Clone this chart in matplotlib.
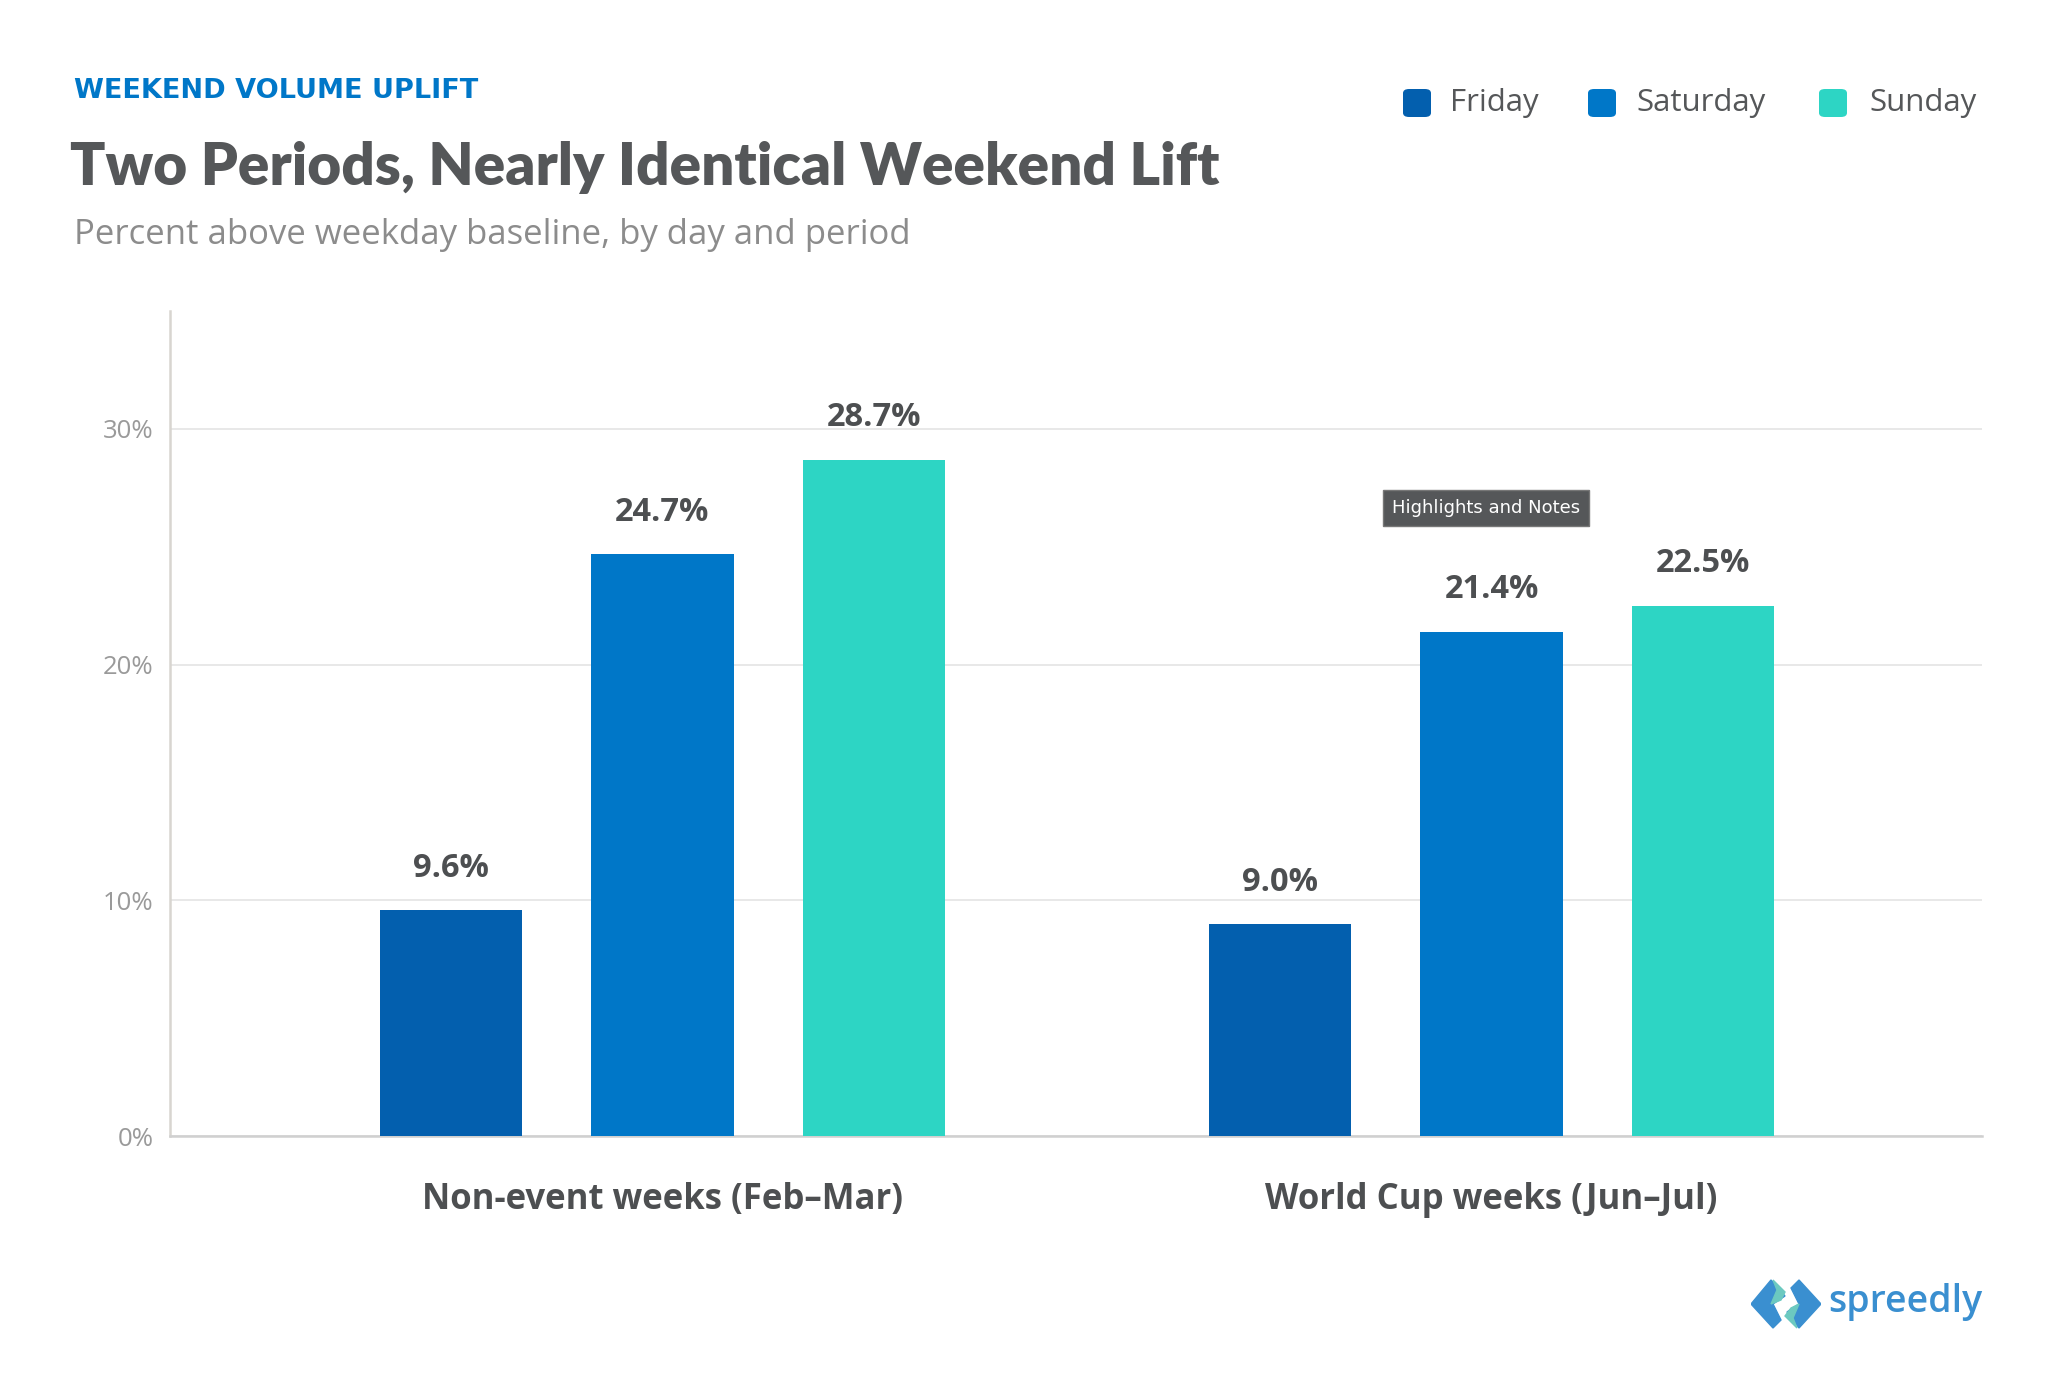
import matplotlib.pyplot as plt
from matplotlib.patches import Polygon, FancyBboxPatch
import numpy as np

plt.rcParams['font.family'] = ['Open Sans', 'DejaVu Sans']

# datos
periods = ['Non-event weeks (Feb\u2013Mar)', 'World Cup weeks (Jun\u2013Jul)']
days = ['Friday', 'Saturday', 'Sunday']
friday = [9.6, 9.0]
saturday = [24.7, 21.4]
sunday = [28.7, 22.5]
colors = ['#035fae', '#0077c8', '#2dd5c4']
yticks = [0, 10, 20, 30]

dark = '#4d4f51'
W, H = 2048, 1381
fig = plt.figure(figsize=(20.48, 13.81), dpi=100)
ax = fig.add_axes([0.083, 0.1774, 0.885, 0.5974])

x = np.arange(len(periods))
width = 0.172
offset = 0.255
for i, (vals, c) in enumerate(zip([friday, saturday, sunday], colors)):
    bars = ax.bar(x + (i - 1) * offset, vals, width, color=c, zorder=3)
    for b, v in zip(bars, vals):
        ax.annotate(f'{v:.1f}%', (b.get_x() + b.get_width() / 2, v),
                    xytext=(0, 30), textcoords='offset points',
                    ha='center', va='center', fontsize=23.5, fontweight='bold',
                    color=dark)

ax.set_xlim(-0.594, 1.592)
ax.set_ylim(0, 35)
ax.set_yticks(yticks)
ax.set_yticklabels([f'{t}%' for t in yticks])
ax.set_xticks(x)
ax.set_xticklabels(periods)
ax.tick_params(axis='y', length=0, pad=12, labelsize=18.5, labelcolor='#9a9a9a')
ax.tick_params(axis='x', length=0, pad=33, labelsize=25, labelcolor=dark)
for lab in ax.get_xticklabels():
    lab.set_fontweight('bold')
ax.grid(axis='y', color='#e6e6e6', linewidth=1.3, zorder=0)
for s in ['top', 'right']:
    ax.spines[s].set_visible(False)
ax.spines['left'].set_color('#d8d5d0')
ax.spines['left'].set_linewidth(1.8)
ax.spines['bottom'].set_color('#d0d0d0')
ax.spines['bottom'].set_linewidth(1.8)

# titulos
fig.text(0.036, 0.934, 'WEEKEND VOLUME UPLIFT', fontsize=19.5, fontweight='bold',
         color='#0077c8', va='center', family=['DejaVu Sans'])
fig.text(0.034, 0.879, 'Two Periods, Nearly Identical Weekend Lift', fontsize=42,
         fontweight='heavy', color='#555759', va='center', family=['Lato', 'DejaVu Sans'])
fig.text(0.036, 0.830, 'Percent above weekday baseline, by day and period',
         fontsize=25, color='#8c8c8c', va='center')

# leyenda
sq_x = [1403, 1588, 1819]
txt_x = [1450, 1636, 1869]
ly = 103
for d, c, sx, tx in zip(days, colors, sq_x, txt_x):
    fig.add_artist(FancyBboxPatch((sx / W, 1 - (ly + 14) / H), 28 / W, 28 / H,
                                  boxstyle='round,pad=0,rounding_size=0.003',
                                  transform=fig.transFigure, facecolor=c,
                                  edgecolor='none'))
    fig.text(tx / W, 1 - ly / H, d, fontsize=22.5, color='#555759', va='center')

# tooltip
fig.text(0.7256, 0.632, 'Highlights and Notes', fontsize=13, color='white',
         ha='center', va='center', family=['DejaVu Sans'],
         bbox=dict(boxstyle='square,pad=0.5', facecolor='#555759',
                   edgecolor='#777777'))

# logo
lax = fig.add_axes([1751 / W, 1 - 1330 / H, 70 / W, 52 / H])
lax.set_xlim(0, 70)
lax.set_ylim(0, 52)
lax.axis('off')
lax.add_patch(Polygon([[0, 26], [20, 50], [34, 34], [22, 26], [30, 10], [22, 2]],
                      closed=True, color='#3a8fd0'))
lax.add_patch(Polygon([[70, 26], [48, 2], [36, 18], [48, 26], [40, 42], [48, 50]],
                      closed=True, color='#3a8fd0'))
lax.add_patch(Polygon([[22, 50], [34, 38], [30, 30], [20, 26], [26, 40]],
                      closed=True, color='#6cc9c0'))
lax.add_patch(Polygon([[46, 2], [34, 14], [40, 22], [48, 26], [42, 12]],
                      closed=True, color='#6cc9c0'))
fig.text(0.968, 0.057, 'spreedly', fontsize=27, fontweight='semibold',
         color='#3a8fd0', ha='right', va='center')

fig.savefig('out.png', dpi=100, facecolor='white')
